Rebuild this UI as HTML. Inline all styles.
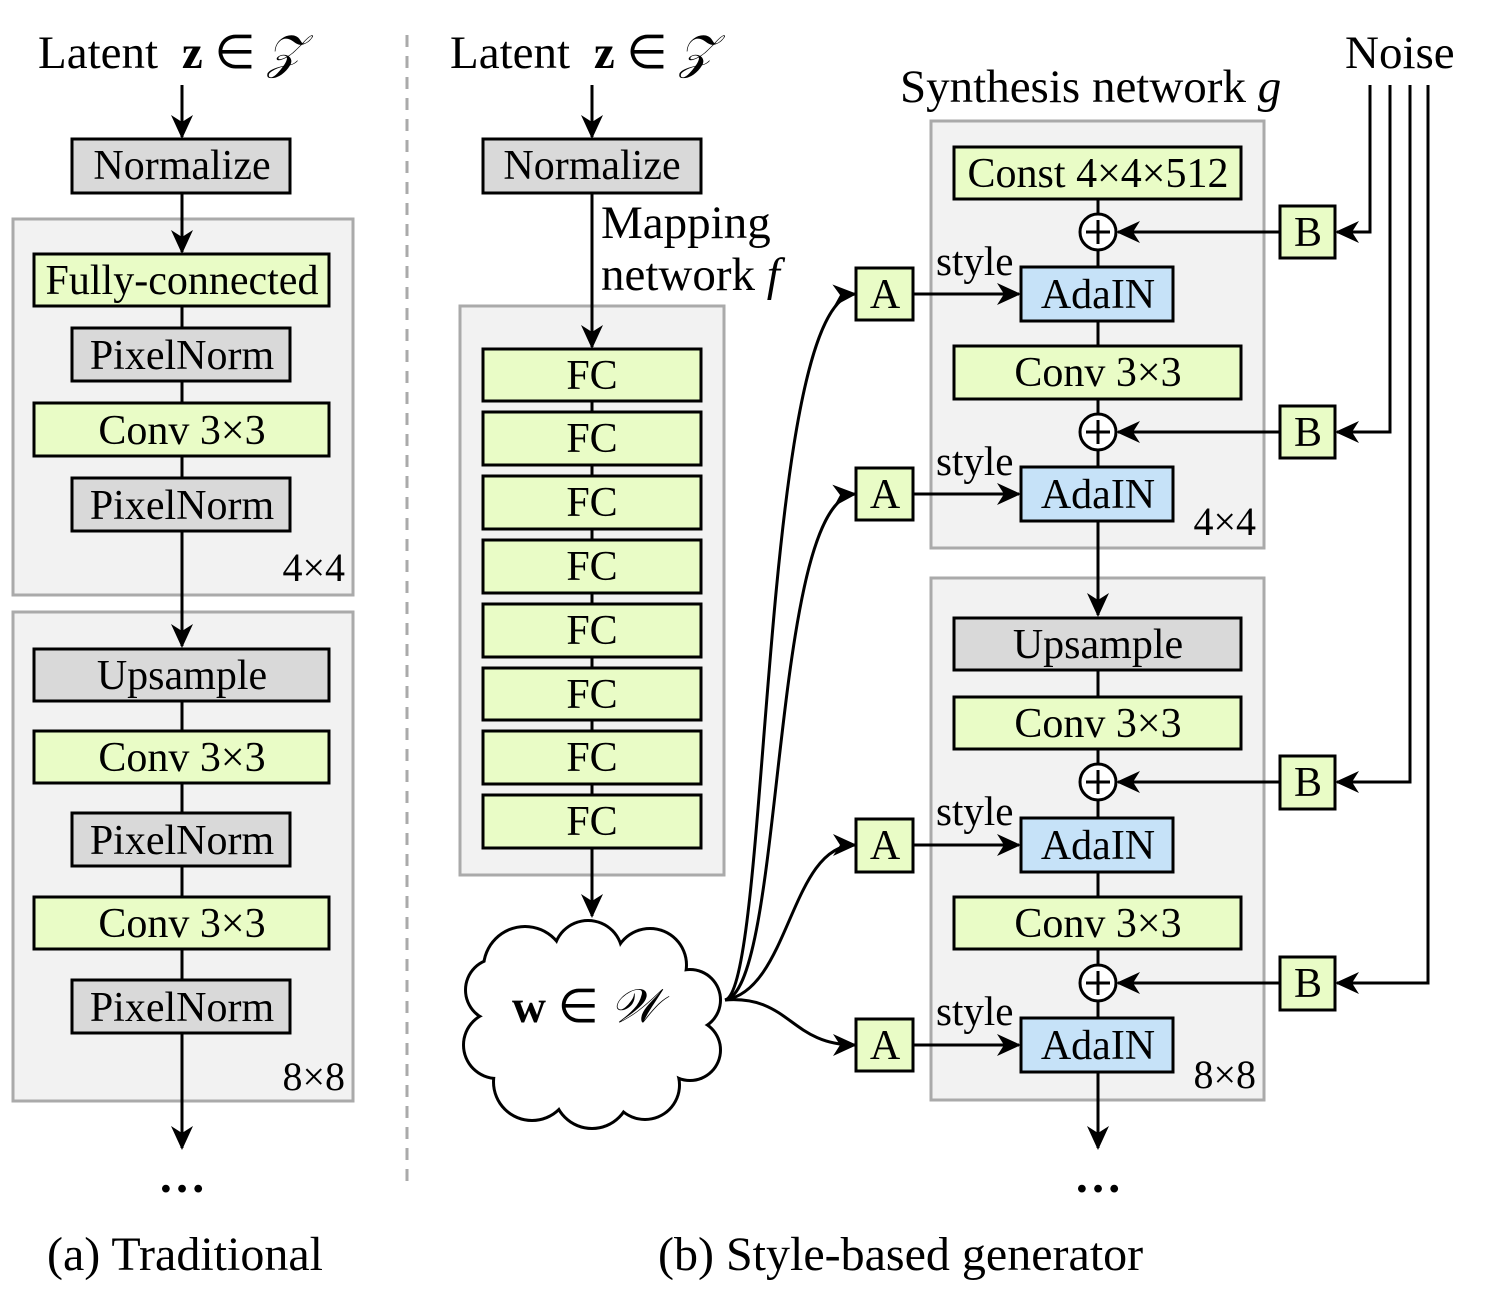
<!DOCTYPE html>
<html><head><meta charset="utf-8"><style>
html,body{margin:0;padding:0;background:#fff}
svg{display:block}
text{font-family:"Liberation Serif",serif;fill:#000}
</style></head><body>
<svg width="1500" height="1292" viewBox="0 0 1500 1292" xmlns="http://www.w3.org/2000/svg">
<defs>
<marker id="ar" viewBox="0 0 24 24" refX="22" refY="12" markerWidth="24" markerHeight="24" markerUnits="userSpaceOnUse" orient="auto">
<path d="M0,1 L24,12 L0,23 L7,12 Z" fill="#000"/>
</marker>
</defs>
<g stroke="#000" stroke-width="3" fill="none">
<line x1="407" y1="35" x2="407" y2="1185" stroke="#aaa" stroke-dasharray="12,9"/>
</g>

<!-- LEFT -->
<text x="38" y="68" font-size="47">Latent <tspan font-weight="bold" dx="12">z</tspan> ∈ <tspan font-style="italic">𝒵</tspan></text>
<rect x="13" y="219" width="340" height="376" fill="#f2f2f2" stroke="#aaa" stroke-width="3"/>
<rect x="13" y="612" width="340" height="489" fill="#f2f2f2" stroke="#aaa" stroke-width="3"/>
<g stroke="#000" stroke-width="3" fill="none">
<line x1="182" y1="85" x2="182" y2="137" marker-end="url(#ar)"/>
<line x1="182" y1="193" x2="182" y2="252" marker-end="url(#ar)"/>
<line x1="182" y1="306" x2="182" y2="478"/>
<line x1="182" y1="531" x2="182" y2="646" marker-end="url(#ar)"/>
<line x1="182" y1="701" x2="182" y2="980"/>
<line x1="182" y1="1033" x2="182" y2="1148" marker-end="url(#ar)"/>
</g>
<g stroke="#000" stroke-width="3">
<rect x="72" y="139" width="218" height="54" fill="#d9d9d9"/>
<rect x="34" y="254" width="295" height="52" fill="#e9fcc6"/>
<rect x="72" y="328" width="218" height="53" fill="#d9d9d9"/>
<rect x="34" y="403" width="295" height="53" fill="#e9fcc6"/>
<rect x="72" y="478" width="218" height="53" fill="#d9d9d9"/>
<rect x="34" y="649" width="295" height="52" fill="#d9d9d9"/>
<rect x="34" y="731" width="295" height="52" fill="#e9fcc6"/>
<rect x="72" y="813" width="218" height="53" fill="#d9d9d9"/>
<rect x="34" y="897" width="295" height="52" fill="#e9fcc6"/>
<rect x="72" y="980" width="218" height="53" fill="#d9d9d9"/>
</g>
<g font-size="42" text-anchor="middle">
<text x="182" y="179">Normalize</text>
<text x="182" y="294">Fully-connected</text>
<text x="182" y="369">PixelNorm</text>
<text x="182" y="444">Conv 3×3</text>
<text x="182" y="519">PixelNorm</text>
<text x="182" y="689">Upsample</text>
<text x="182" y="771">Conv 3×3</text>
<text x="182" y="854">PixelNorm</text>
<text x="182" y="937">Conv 3×3</text>
<text x="182" y="1021">PixelNorm</text>
</g>
<text x="345" y="581" font-size="40" text-anchor="end">4×4</text>
<text x="345" y="1090" font-size="40" text-anchor="end">8×8</text>
<text x="182" y="1192" font-size="48" text-anchor="middle" font-weight="bold">…</text>
<text x="47" y="1270" font-size="48">(a) Traditional</text>

<!-- MIDDLE -->
<text x="450" y="68" font-size="47">Latent <tspan font-weight="bold" dx="12">z</tspan> ∈ <tspan font-style="italic">𝒵</tspan></text>
<rect x="460" y="306" width="264" height="569" fill="#f2f2f2" stroke="#aaa" stroke-width="3"/>
<g stroke="#000" stroke-width="3" fill="none">
<line x1="592" y1="85" x2="592" y2="137" marker-end="url(#ar)"/>
<line x1="592" y1="193" x2="592" y2="347" marker-end="url(#ar)"/>
<line x1="592" y1="401" x2="592" y2="795"/>
<line x1="592" y1="848" x2="592" y2="916" marker-end="url(#ar)"/>
</g>
<g stroke="#000" stroke-width="3">
<rect x="483" y="139" width="218" height="54" fill="#d9d9d9"/>
<rect x="483" y="349" width="218" height="52" fill="#e9fcc6"/>
<rect x="483" y="412" width="218" height="53" fill="#e9fcc6"/>
<rect x="483" y="476" width="218" height="53" fill="#e9fcc6"/>
<rect x="483" y="540" width="218" height="53" fill="#e9fcc6"/>
<rect x="483" y="604" width="218" height="53" fill="#e9fcc6"/>
<rect x="483" y="668" width="218" height="52" fill="#e9fcc6"/>
<rect x="483" y="731" width="218" height="53" fill="#e9fcc6"/>
<rect x="483" y="795" width="218" height="53" fill="#e9fcc6"/>
</g>
<g font-size="42" text-anchor="middle">
<text x="592" y="179">Normalize</text>
<text x="592" y="389">FC</text>
<text x="592" y="452">FC</text>
<text x="592" y="516">FC</text>
<text x="592" y="580">FC</text>
<text x="592" y="644">FC</text>
<text x="592" y="708">FC</text>
<text x="592" y="771">FC</text>
<text x="592" y="835">FC</text>
</g>
<text x="601" y="238" font-size="47">Mapping</text>
<text x="601" y="290" font-size="47">network <tspan font-style="italic">f</tspan></text>

<!-- cloud -->
<g fill="#000">
<circle cx="525" cy="968" r="43"/><circle cx="588" cy="955" r="36"/><circle cx="650" cy="965" r="38"/>
<circle cx="690" cy="1000" r="32"/><circle cx="690" cy="1050" r="32"/><circle cx="645" cy="1085" r="36"/>
<circle cx="592" cy="1090" r="40"/><circle cx="532" cy="1082" r="40"/><circle cx="497" cy="1045" r="35"/>
<circle cx="497" cy="990" r="33"/>
</g>
<g fill="#fff">
<circle cx="525" cy="968" r="40"/><circle cx="588" cy="955" r="33"/><circle cx="650" cy="965" r="35"/>
<circle cx="690" cy="1000" r="29"/><circle cx="690" cy="1050" r="29"/><circle cx="645" cy="1085" r="33"/>
<circle cx="592" cy="1090" r="37"/><circle cx="532" cy="1082" r="37"/><circle cx="497" cy="1045" r="32"/>
<circle cx="497" cy="990" r="30"/>
<ellipse cx="593" cy="1020" rx="110" ry="75"/>
</g>
<text x="512" y="1022" font-size="47"><tspan font-weight="bold">w</tspan> ∈ <tspan font-style="italic">𝒲</tspan></text>

<!-- curves -->
<g stroke="#000" stroke-width="3" fill="none">
<path d="M725,1000 C770,990 760,300 855,294" marker-end="url(#ar)"/>
<path d="M725,1000 C785,990 770,500 855,494" marker-end="url(#ar)"/>
<path d="M725,1000 C790,990 790,845 855,845" marker-end="url(#ar)"/>
<path d="M725,1000 C790,995 790,1045 855,1045" marker-end="url(#ar)"/>
</g>

<!-- RIGHT -->
<text x="900" y="102" font-size="47">Synthesis network <tspan font-style="italic">g</tspan></text>
<text x="1345" y="68" font-size="47">Noise</text>
<rect x="931" y="121" width="333" height="427" fill="#f2f2f2" stroke="#aaa" stroke-width="3"/>
<rect x="931" y="578" width="333" height="522" fill="#f2f2f2" stroke="#aaa" stroke-width="3"/>
<g stroke="#000" stroke-width="3" fill="none">
<line x1="1098" y1="199" x2="1098" y2="467"/>
<line x1="1098" y1="521" x2="1098" y2="615" marker-end="url(#ar)"/>
<line x1="1098" y1="670" x2="1098" y2="1018"/>
<line x1="1098" y1="1072" x2="1098" y2="1148" marker-end="url(#ar)"/>
<line x1="913" y1="294" x2="1019" y2="294" marker-end="url(#ar)"/>
<line x1="913" y1="494" x2="1019" y2="494" marker-end="url(#ar)"/>
<line x1="913" y1="845" x2="1019" y2="845" marker-end="url(#ar)"/>
<line x1="913" y1="1045" x2="1019" y2="1045" marker-end="url(#ar)"/>
<line x1="1280" y1="232" x2="1118" y2="232" marker-end="url(#ar)"/>
<line x1="1280" y1="432" x2="1118" y2="432" marker-end="url(#ar)"/>
<line x1="1280" y1="782" x2="1118" y2="782" marker-end="url(#ar)"/>
<line x1="1280" y1="983" x2="1118" y2="983" marker-end="url(#ar)"/>
<path d="M1370,85 V232 H1337" marker-end="url(#ar)"/>
<path d="M1390,85 V432 H1337" marker-end="url(#ar)"/>
<path d="M1410,85 V782 H1337" marker-end="url(#ar)"/>
<path d="M1428,85 V983 H1337" marker-end="url(#ar)"/>
</g>
<g stroke="#000" stroke-width="3">
<rect x="954" y="147" width="287" height="52" fill="#e9fcc6"/>
<rect x="1021" y="267" width="152" height="54" fill="#c6e2f8"/>
<rect x="954" y="346" width="287" height="53" fill="#e9fcc6"/>
<rect x="1021" y="467" width="152" height="54" fill="#c6e2f8"/>
<rect x="954" y="618" width="287" height="52" fill="#d9d9d9"/>
<rect x="954" y="697" width="287" height="52" fill="#e9fcc6"/>
<rect x="1021" y="818" width="152" height="54" fill="#c6e2f8"/>
<rect x="954" y="897" width="287" height="52" fill="#e9fcc6"/>
<rect x="1021" y="1018" width="152" height="54" fill="#c6e2f8"/>
<rect x="856" y="268" width="57" height="52" fill="#e9fcc6"/>
<rect x="856" y="468" width="57" height="52" fill="#e9fcc6"/>
<rect x="856" y="819" width="57" height="53" fill="#e9fcc6"/>
<rect x="856" y="1019" width="57" height="52" fill="#e9fcc6"/>
<rect x="1280" y="206" width="55" height="52" fill="#e9fcc6"/>
<rect x="1280" y="406" width="55" height="52" fill="#e9fcc6"/>
<rect x="1280" y="756" width="55" height="53" fill="#e9fcc6"/>
<rect x="1280" y="957" width="55" height="53" fill="#e9fcc6"/>
<g fill="#fff">
<circle cx="1098" cy="232" r="18"/><circle cx="1098" cy="432" r="18"/>
<circle cx="1098" cy="782" r="18"/><circle cx="1098" cy="983" r="18"/>
</g>
<path d="M1098,220 V244 M1086,232 H1110 M1098,420 V444 M1086,432 H1110 M1098,770 V794 M1086,782 H1110 M1098,971 V995 M1086,983 H1110" fill="none"/>
</g>
<g font-size="42" text-anchor="middle">
<text x="1098" y="187">Const 4×4×512</text>
<text x="1098" y="308">AdaIN</text>
<text x="1098" y="386">Conv 3×3</text>
<text x="1098" y="508">AdaIN</text>
<text x="1098" y="658">Upsample</text>
<text x="1098" y="737">Conv 3×3</text>
<text x="1098" y="859">AdaIN</text>
<text x="1098" y="937">Conv 3×3</text>
<text x="1098" y="1059">AdaIN</text>
<text x="885" y="308">A</text><text x="885" y="508">A</text><text x="885" y="859">A</text><text x="885" y="1059">A</text>
<text x="1308" y="246">B</text><text x="1308" y="446">B</text><text x="1308" y="796">B</text><text x="1308" y="997">B</text>
</g>
<g font-size="41">
<text x="936" y="275">style</text><text x="936" y="475">style</text>
<text x="936" y="825">style</text><text x="936" y="1025">style</text>
</g>
<text x="1256" y="535" font-size="40" text-anchor="end">4×4</text>
<text x="1256" y="1088" font-size="40" text-anchor="end">8×8</text>
<text x="1098" y="1192" font-size="48" text-anchor="middle" font-weight="bold">…</text>
<text x="658" y="1270" font-size="48">(b) Style-based generator</text>
</svg>
</body></html>
